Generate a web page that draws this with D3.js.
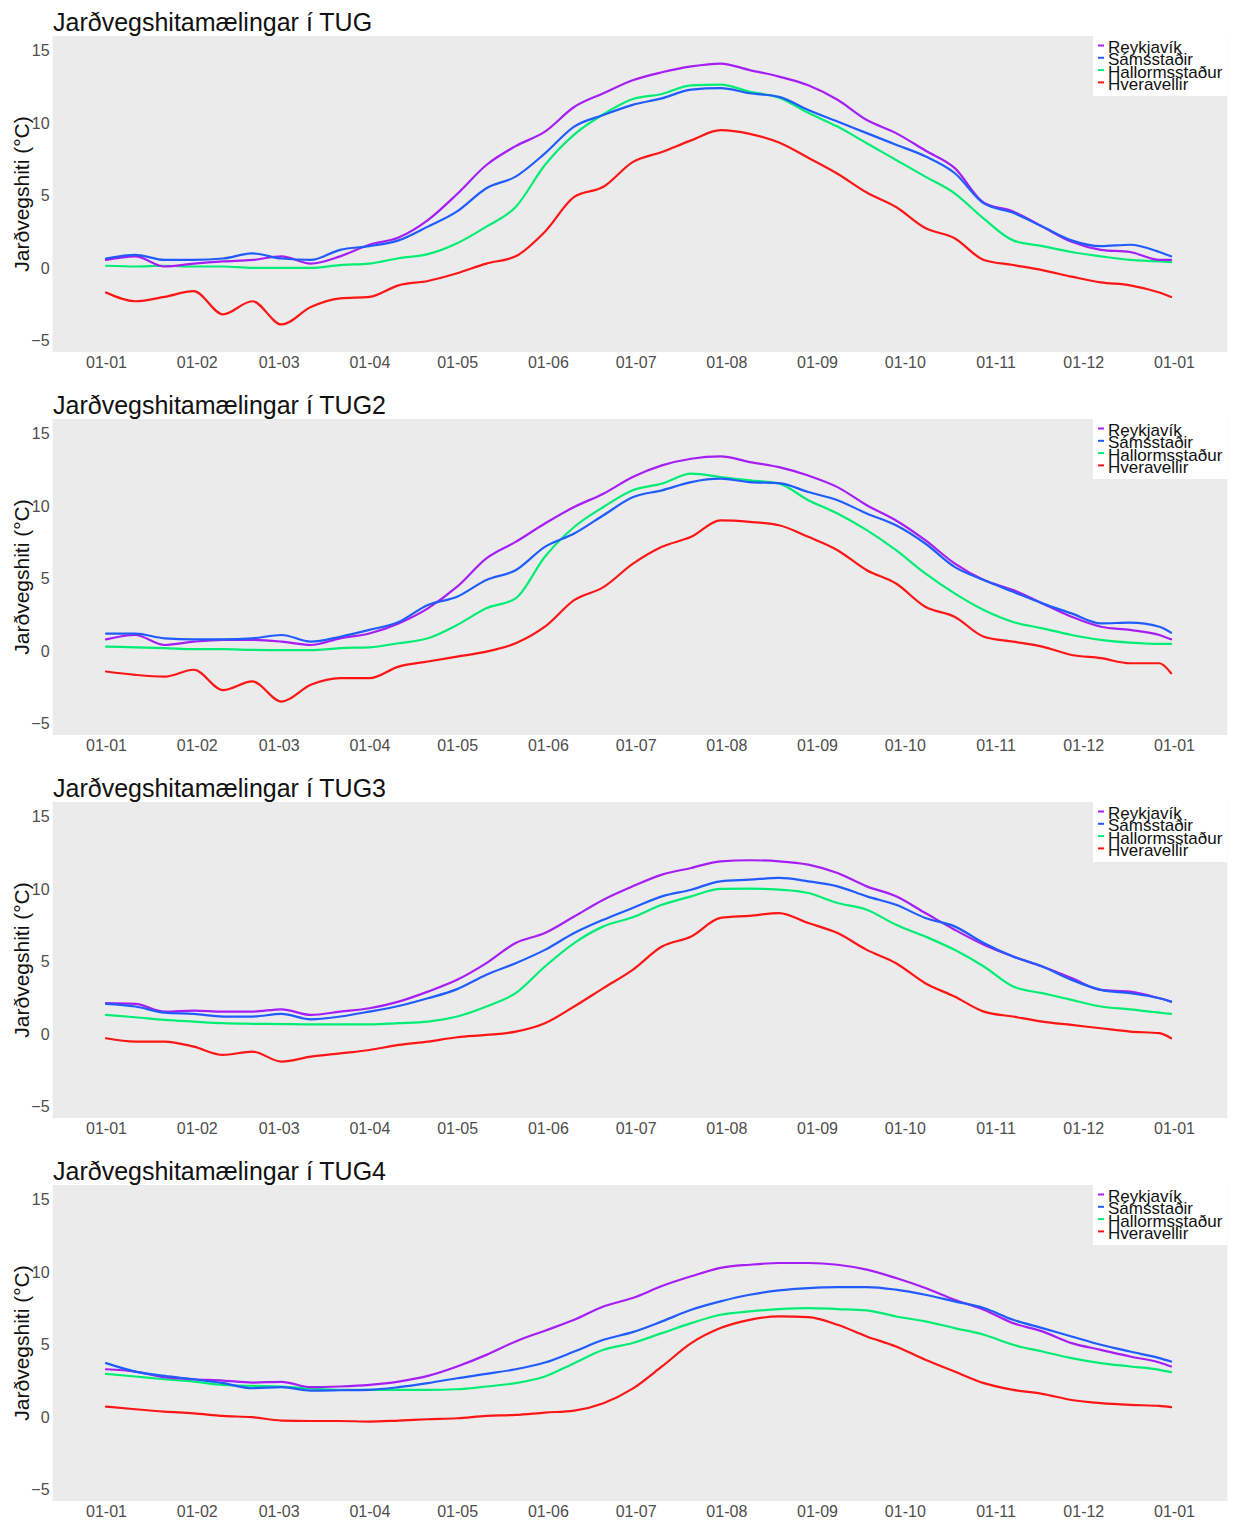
<!DOCTYPE html>
<html>
<head>
<meta charset="utf-8">
<script src="https://cdn.jsdelivr.net/npm/d3@7"></script>
<style>
  html, body { margin: 0; padding: 0; background: #ffffff; }
  text { font-family: "Liberation Sans", Arial, Helvetica, sans-serif; }
</style>
</head>
<body>
<script>
// ---------- DATA ----------
const days = [0,10,20,30,40,50,60,70,80,90,100,110,120,130,140,150,160,170,180,190,200,210,220,230,240,250,260,270,280,290,300,310,320,330,340,350,360,364];
const monthTicks = [0,31,59,90,120,151,181,212,243,273,304,334,365];
const monthLabels = ["01-01","01-02","01-03","01-04","01-05","01-06","01-07","01-08","01-09","01-10","01-11","01-12","01-01"];
const yTicks = [-5,0,5,10,15];
const stations = ["Reykjavík","Sámsstaðir","Hallormsstaður","Hveravellir"];
const stationColors = ["#a51ef5","#1f5cff","#00ee76","#ff1414"];
const panelTitles = ["Jarðvegshitamælingar í TUG","Jarðvegshitamælingar í TUG2","Jarðvegshitamælingar í TUG3","Jarðvegshitamælingar í TUG4"];
const yTitle = "Jarðvegshiti (°C)";

// TUG
const tug_reykjavik      = [0.55,0.8,0.1,0.3,0.45,0.55,0.8,0.3,0.8,1.6,2.1,3.3,5.1,7.1,8.4,9.4,11.1,12.05,12.95,13.5,13.9,14.1,13.65,13.2,12.6,11.6,10.2,9.3,8.1,6.9,4.5,3.9,2.85,1.8,1.25,1.1,0.55,0.55];
const tug_samsstadir     = [0.65,0.9,0.55,0.55,0.65,1.0,0.65,0.55,1.25,1.5,1.9,2.85,3.9,5.5,6.3,7.9,9.75,10.55,11.25,11.7,12.3,12.4,12.05,11.8,10.9,10.1,9.3,8.5,7.7,6.55,4.45,3.8,2.85,1.9,1.5,1.6,1.1,0.8];
const tug_hallormsstadur = [0.15,0.1,0.15,0.1,0.1,0.0,0.0,0.0,0.2,0.3,0.67,0.95,1.7,2.85,4.2,7.1,9.2,10.6,11.65,12.0,12.6,12.65,12.15,11.75,10.7,9.75,8.6,7.45,6.3,5.15,3.4,1.9,1.5,1.1,0.8,0.55,0.45,0.4];
const tug_hveravellir    = [-1.7,-2.3,-2.0,-1.6,-3.2,-2.3,-3.9,-2.7,-2.1,-2.0,-1.2,-0.9,-0.37,0.3,0.8,2.5,4.9,5.6,7.3,8.0,8.8,9.5,9.25,8.65,7.6,6.5,5.2,4.2,2.75,2.05,0.55,0.2,-0.15,-0.6,-1.0,-1.2,-1.7,-2.0];

// TUG2
const tug2_reykjavik      = [0.8,1.1,0.41,0.64,0.76,0.76,0.64,0.41,0.87,1.2,1.9,2.94,4.43,6.38,7.52,8.79,9.93,10.85,12.0,12.8,13.26,13.42,13.03,12.68,12.1,11.3,10.05,9.0,7.64,6.04,4.89,4.2,3.28,2.36,1.67,1.45,1.1,0.8];
const tug2_samsstadir     = [1.2,1.2,0.87,0.8,0.8,0.87,1.1,0.64,0.98,1.45,2.0,3.17,3.74,4.89,5.57,7.18,8.1,9.36,10.6,11.08,11.65,11.88,11.65,11.58,10.96,10.4,9.48,8.67,7.41,5.8,4.89,4.08,3.28,2.59,1.9,1.95,1.67,1.26];
const tug2_hallormsstadur = [0.3,0.25,0.2,0.12,0.12,0.07,0.05,0.05,0.2,0.25,0.53,0.87,1.79,2.94,3.63,6.5,8.55,9.93,11.08,11.54,12.23,12.0,11.77,11.54,10.4,9.48,8.33,6.95,5.35,3.97,2.82,2.0,1.56,1.1,0.76,0.57,0.48,0.48];
const tug2_hveravellir    = [-1.42,-1.65,-1.77,-1.3,-2.7,-2.1,-3.5,-2.34,-1.88,-1.88,-1.08,-0.73,-0.39,-0.05,0.53,1.67,3.5,4.4,6.0,7.18,7.87,9.0,8.9,8.67,7.87,6.95,5.57,4.65,3.05,2.36,0.98,0.64,0.3,-0.28,-0.5,-0.85,-0.85,-1.54];

// TUG3
const tug3_reykjavik      = [2.12,2.07,1.54,1.61,1.54,1.54,1.7,1.31,1.54,1.77,2.23,2.92,3.73,4.88,6.27,6.96,8.1,9.26,10.18,10.99,11.45,11.91,11.98,11.91,11.68,11.1,10.18,9.49,8.34,7.19,6.15,5.34,4.65,3.85,3.04,2.92,2.46,2.23];
const tug3_samsstadir     = [2.07,1.89,1.47,1.38,1.2,1.2,1.38,1.01,1.2,1.54,1.93,2.46,3.09,4.08,4.88,5.8,6.96,7.88,8.69,9.49,9.95,10.53,10.64,10.76,10.53,10.18,9.49,8.91,8.0,7.42,6.27,5.34,4.65,3.73,3.04,2.81,2.46,2.23];
const tug3_hallormsstadur = [1.31,1.15,0.97,0.85,0.74,0.7,0.68,0.66,0.66,0.66,0.74,0.85,1.2,1.89,2.81,4.65,6.27,7.42,8.05,8.91,9.49,10.0,10.02,9.95,9.72,9.03,8.57,7.53,6.72,5.8,4.65,3.27,2.81,2.35,1.89,1.7,1.47,1.38];
const tug3_hveravellir    = [-0.3,-0.53,-0.53,-0.88,-1.45,-1.22,-1.91,-1.57,-1.34,-1.11,-0.76,-0.53,-0.23,-0.07,0.16,0.74,1.89,3.16,4.42,6.03,6.72,8.0,8.15,8.34,7.65,6.96,5.8,4.88,3.5,2.58,1.54,1.2,0.85,0.62,0.39,0.16,0.05,-0.3];

// TUG4
const tug4_reykjavik      = [3.29,3.13,2.74,2.6,2.51,2.37,2.42,2.05,2.1,2.21,2.44,2.83,3.48,4.28,5.21,5.95,6.7,7.62,8.2,9.03,9.7,10.28,10.5,10.62,10.62,10.5,10.16,9.58,8.89,8.09,7.39,6.47,5.9,5.09,4.63,4.17,3.75,3.48];
const tug4_samsstadir     = [3.71,3.13,2.83,2.6,2.33,1.98,2.05,1.82,1.84,1.87,2.05,2.33,2.67,2.97,3.29,3.75,4.51,5.32,5.85,6.59,7.39,7.97,8.43,8.73,8.89,8.96,8.96,8.78,8.43,7.97,7.51,6.7,6.13,5.55,4.98,4.51,4.06,3.82];
const tug4_hallormsstadur = [2.97,2.79,2.6,2.44,2.21,2.14,2.1,1.96,1.87,1.87,1.87,1.87,1.91,2.1,2.33,2.79,3.71,4.63,5.1,5.78,6.47,7.05,7.28,7.44,7.51,7.44,7.35,6.93,6.59,6.13,5.67,4.98,4.51,4.06,3.71,3.48,3.25,3.09];
const tug4_hveravellir    = [0.71,0.53,0.37,0.25,0.07,-0.02,-0.25,-0.28,-0.28,-0.32,-0.25,-0.16,-0.09,0.07,0.14,0.3,0.44,0.95,1.95,3.48,5.09,6.13,6.7,6.93,6.88,6.36,5.55,4.86,3.94,3.13,2.33,1.87,1.59,1.17,0.95,0.83,0.76,0.67];

const panelSeries = [
  [tug_reykjavik, tug_samsstadir, tug_hallormsstadur, tug_hveravellir],
  [tug2_reykjavik, tug2_samsstadir, tug2_hallormsstadur, tug2_hveravellir],
  [tug3_reykjavik, tug3_samsstadir, tug3_hallormsstadur, tug3_hveravellir],
  [tug4_reykjavik, tug4_samsstadir, tug4_hallormsstadur, tug4_hveravellir]
];

// ---------- DRAW ----------
const W = 1234, H = 1522;
const svg = d3.select("body").append("svg")
  .attr("width", W).attr("height", H)
  .style("display", "block")
  .style("background", "#ffffff");

const x = d3.scaleLinear().domain([0, 365]).range([106, 1174]);
const panelLeft = 52.6, panelRight = 1227.4;
const panelStep = 383;
const drawOrder = [2, 3, 0, 1];

panelSeries.forEach((series, pi) => {
  const off = pi * panelStep;
  const top = 36 + off, bottom = 352 + off;
  const y = d3.scaleLinear().domain([-5.8, 16]).range([bottom, top]);
  const g = svg.append("g");

  // panel background
  g.append("rect")
    .attr("x", panelLeft).attr("y", top)
    .attr("width", panelRight - panelLeft).attr("height", bottom - top)
    .attr("fill", "#ebebeb");

  // title
  g.append("text")
    .attr("x", 53).attr("y", 31 + off)
    .attr("font-size", 25).attr("fill", "#111")
    .text(panelTitles[pi]);

  // y title
  g.append("text")
    .attr("transform", `translate(29,${(top + bottom) / 2}) rotate(-90)`)
    .attr("text-anchor", "middle")
    .attr("font-size", 21).attr("fill", "#111")
    .text(yTitle);

  // x axis
  const xAxis = g.append("g")
    .attr("transform", `translate(0,${bottom})`)
    .call(d3.axisBottom(x).tickValues(monthTicks)
      .tickFormat((d, i) => monthLabels[i]).tickSize(0).tickPadding(5));
  xAxis.select(".domain").remove();
  xAxis.selectAll("text").attr("font-size", 16).attr("fill", "#4d4d4d")
    .style("font-family", '"Liberation Sans", Arial, sans-serif');

  // y axis
  const yAxis = g.append("g")
    .attr("transform", `translate(${panelLeft},0)`)
    .call(d3.axisLeft(y).tickValues(yTicks).tickFormat(d3.format("d")).tickSize(0).tickPadding(3));
  yAxis.select(".domain").remove();
  yAxis.selectAll("text").attr("font-size", 16).attr("fill", "#4d4d4d")
    .style("font-family", '"Liberation Sans", Arial, sans-serif');

  // lines
  const line = d3.line()
    .x((d, i) => x(days[i]))
    .y(d => y(d))
    .curve(d3.curveMonotoneX);
  drawOrder.forEach(si => {
    g.append("path")
      .datum(series[si])
      .attr("d", line)
      .attr("fill", "none")
      .attr("stroke", stationColors[si])
      .attr("stroke-width", 2.2)
      .attr("stroke-linejoin", "round")
      .attr("stroke-linecap", "round");
  });

  // legend
  const lg = g.append("g");
  lg.append("rect")
    .attr("x", 1093).attr("y", top)
    .attr("width", panelRight - 1093).attr("height", 60)
    .attr("fill", "#ffffff");
  stations.forEach((s, si) => {
    const ky = top + 9.5 + 12.3 * si;
    lg.append("line")
      .attr("x1", 1098).attr("x2", 1104)
      .attr("y1", ky).attr("y2", ky)
      .attr("stroke", stationColors[si]).attr("stroke-width", 2);
    lg.append("text")
      .attr("x", 1108).attr("y", ky + 7.5)
      .attr("font-size", 17).attr("fill", "#111")
      .text(s);
  });
});
</script>
</body>
</html>
